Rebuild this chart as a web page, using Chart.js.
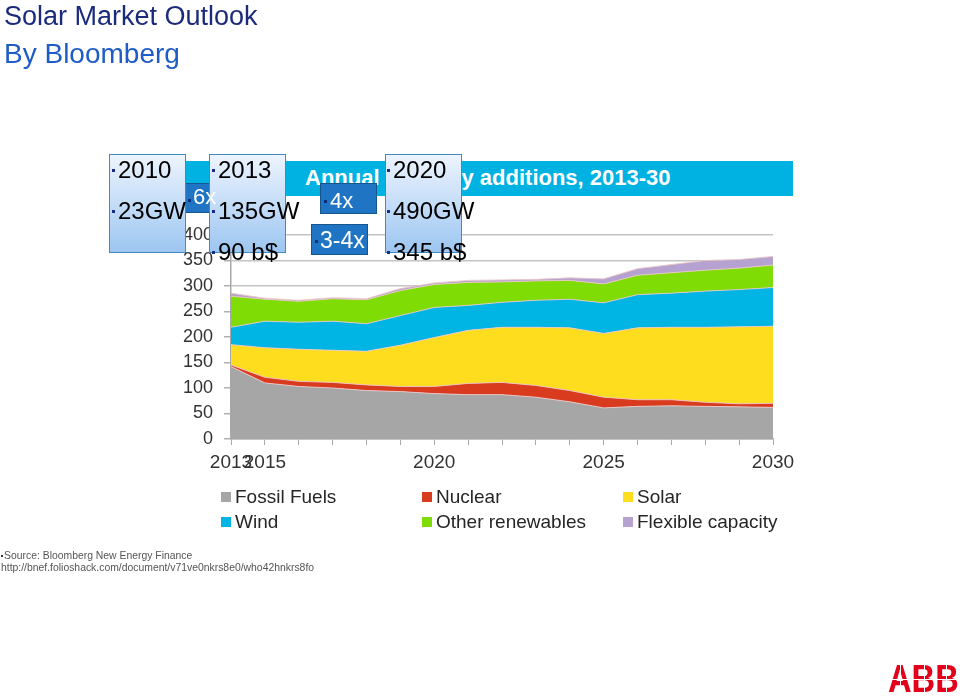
<!DOCTYPE html>
<html>
<head>
<meta charset="utf-8">
<script src="https://cdn.jsdelivr.net/npm/chart.js@4.4.1/dist/chart.umd.min.js"></script>
<style>
  body { margin:0; width:960px; height:698px; background:#fff; position:relative; overflow:hidden; font-family:"Liberation Sans", Arial, sans-serif; }
  #mycanvas { position:absolute; left:0; top:0; }
  .abs { position:absolute; white-space:nowrap; line-height:1; }
  .title1 { left:4px; top:3px; font-size:27px; color:#1c2a7c; }
  .title2 { left:4px; top:40px; font-size:28px; color:#1f5cc5; }
  .bar { left:140px; top:161px; width:653px; height:35px; background:#00b2e2; }
  .bartxt { left:305px; top:167px; font-size:22px; font-weight:bold; color:#fff; }
  .box { position:absolute; border:1px solid #3f8cc2; background:linear-gradient(#edf4fe, #9dc6f1); box-sizing:border-box; }
  .blue { position:absolute; background:#1f74c4; border:1px solid #17558f; box-sizing:border-box; }
  .bl { position:absolute; width:3px; height:3px; background:#1a2a8a; }
  .wb { position:absolute; width:3px; height:3px; background:#0b2f7a; }
  .t24 { font-size:24px; color:#000; }
  .tw { font-size:22px; color:#fff; }
  .leg { position:absolute; font-size:19px; color:#262626; line-height:1; white-space:nowrap; }
  .leg i { display:inline-block; width:10px; height:10px; margin-right:4px; vertical-align:1px; }
  .src { font-size:10.4px; color:#555; left:1px; }
  .abb { left:888px; top:660px; font-size:38px; font-weight:bold; color:#e2001a; transform:scaleX(0.86); transform-origin:left top; }
  .wl { position:absolute; background:#fff; }
</style>
</head>
<body>
<canvas id="mycanvas" width="960" height="698"></canvas>

<div class="abs title1">Solar Market Outlook</div>
<div class="abs title2">By Bloomberg</div>

<div class="abs bar"></div>
<div class="abs bartxt">Annual capacity additions, 2013-30</div>

<div class="blue" style="left:185px;top:183px;width:34px;height:30px;"></div>

<div class="box" style="left:109px;top:154px;width:77px;height:99px;"></div>
<div class="bl" style="left:112px;top:169px;"></div><div class="abs t24" style="left:118px;top:158px;">2010</div>
<div class="bl" style="left:112px;top:210px;"></div><div class="abs t24" style="left:118px;top:199px;">23GW</div>

<div class="box" style="left:209px;top:154px;width:77px;height:99px;"></div>
<div class="bl" style="left:212px;top:169px;"></div><div class="abs t24" style="left:218px;top:158px;">2013</div>
<div class="bl" style="left:212px;top:210px;"></div><div class="abs t24" style="left:218px;top:199px;">135GW</div>
<div class="bl" style="left:212px;top:251px;"></div><div class="abs t24" style="left:218px;top:240px;">90 b$</div>

<div class="wb" style="left:188px;top:199px;"></div>
<div class="abs tw" style="left:193px;top:186px;">6x</div>

<div class="blue" style="left:320px;top:183px;width:57px;height:31px;"></div>
<div class="wb" style="left:324px;top:200px;"></div>
<div class="abs tw" style="left:330px;top:190px;">4x</div>

<div class="blue" style="left:311px;top:224px;width:57px;height:31px;"></div>
<div class="wb" style="left:315px;top:240px;"></div>
<div class="abs tw" style="left:320px;top:229px;font-size:23px;">3-4x</div>

<div class="box" style="left:385px;top:154px;width:77px;height:99px;"></div>
<div class="bl" style="left:387px;top:169px;"></div><div class="abs t24" style="left:393px;top:158px;">2020</div>
<div class="bl" style="left:387px;top:210px;"></div><div class="abs t24" style="left:393px;top:199px;">490GW</div>
<div class="bl" style="left:387px;top:251px;"></div><div class="abs t24" style="left:393px;top:240px;">345 b$</div>

<div id="legend"></div>

<div class="abs src" style="top:551px;"><span style="display:inline-block;width:2px;height:2px;background:#333;vertical-align:2px;margin-right:1px;"></span>Source: Bloomberg New Energy Finance</div>
<div class="abs src" style="top:563px;">http://bnef.folioshack.com/document/v71ve0nkrs8e0/who42hnkrs8fo</div>

<div class="abs abb">ABB</div>
<div class="wl" style="left:886px;top:679px;width:74px;height:1px;"></div>
<div class="wl" style="left:900px;top:664px;width:1px;height:30px;"></div>
<div class="wl" style="left:924px;top:664px;width:1px;height:30px;"></div>
<div class="wl" style="left:946px;top:664px;width:1px;height:30px;"></div>

<script>
var years = ['2013','2015','2016','2017','2018','2019','2020','2021','2022','2023','2024','2025','2026','2027','2028','2029','2030'];
var shownYears = ['2013','2015','2020','2025','2030'];

var fossil  = [142,110,103,100,95,93,89,87,87,82,73,61,64,65,64,63,62];
var nuclear = [3,11,10,11,11,10,14,22,24,23,22,21,13,12,8,6,8];
var solar   = [40,58,63,63,66,81,96,104,108,114,123,125,141,142,147,151,151];
var wind    = [34,52,53,57,54,58,59,49,49,53,56,60,65,67,71,73,76];
var other   = [61,43,41,44,47,49,45,45,40,38,37,37,38,40,41,42,44];
var flex    = [6,2,2,2,2,4,3,4,4,3,5,10,13,16,19,17,17];

var names  = ['Fossil Fuels','Nuclear','Solar','Wind','Other renewables','Flexible capacity'];
var colors = ['#a6a6a6','#d83b1e','#fedc1e','#00b4e4','#7fdc04','#b6a2d0'];
var series = [fossil, nuclear, solar, wind, other, flex];

var datasets = [];
for (var i in series) {
    datasets.push({
        label: names[i],
        data: series[i],
        backgroundColor: colors[i],
        borderColor: 'rgba(235,200,200,0.9)',
        borderWidth: 1,
        pointRadius: 0,
        tension: 0,
        fill: i == 0 ? 'origin' : '-1'
    });
}

// legend in three columns, two rows
var legX = [221, 422, 623];
var legY = [487, 512];
var legHtml = '';
for (var k = 0; k < names.length; k++) {
    var col = k % 3, row = Math.floor(k / 3);
    legHtml += '<div class="leg" style="left:' + legX[col] + 'px;top:' + legY[row] + 'px;"><i style="background:' + colors[k] + '"></i>' + names[k] + '</div>';
}
document.getElementById('legend').innerHTML = legHtml;

var ctx = document.getElementById('mycanvas');
var areaChart = new Chart(ctx, {
    type: 'line',
    data: { labels: years, datasets: datasets },
    options: {
        responsive: false,
        animation: false,
        layout: { padding: { left: 180, right: 187, top: 235, bottom: 219 } },
        plugins: { legend: { display: false }, tooltip: { enabled: false } },
        scales: {
            x: {
                afterFit: function(scale) { scale.height = 40; },
                grid: { drawOnChartArea: false, tickLength: 6, color: '#a8a8a8' },
                border: { color: '#a8a8a8', width: 1.5 },
                ticks: {
                    autoSkip: false, maxRotation: 0, padding: 6,
                    color: '#333',
                    font: { family: 'Liberation Sans, Arial', size: 19 },
                    callback: function(val, idx) {
                        return shownYears.indexOf(years[idx]) >= 0 ? years[idx] : '';
                    }
                }
            },
            y: {
                stacked: true,
                min: 0, max: 400,
                afterFit: function(scale) { scale.width = 51; },
                grid: { color: '#c4c4c4', lineWidth: 1.5, tickLength: 7, tickColor: '#b0b0b0' },
                border: { color: '#a8a8a8', width: 1.5 },
                ticks: {
                    stepSize: 50, padding: 11,
                    color: '#333',
                    font: { family: 'Liberation Sans, Arial', size: 18 }
                }
            }
        }
    }
});
</script>
</body>
</html>
